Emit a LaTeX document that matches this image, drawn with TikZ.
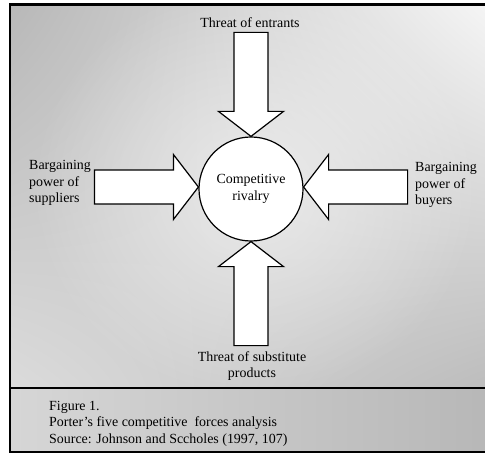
\documentclass[tikz,border=0pt]{standalone}
\usepackage{fontspec}
\setmainfont{Liberation Serif}
\usetikzlibrary{calc,fadings,shadings}
\definecolor{bgTL}{gray}{0.72}
\definecolor{bgTR}{gray}{0.96}
\definecolor{bgBL}{gray}{0.86}
\definecolor{bgBR}{gray}{0.74}
\definecolor{capL}{gray}{0.84}
\definecolor{capR}{gray}{0.72}
\tikzfading[name=softspot, inner color=transparent!0, outer color=transparent!100]
\tikzset{
  lbl/.style={font=\fontsize{14}{16.5}\selectfont, inner sep=0pt, text=black},
  force/.style={draw=black, line width=1.2bp, fill=white, line join=miter},
  frameline/.style={line width=2.6bp, draw=black},
  pics/forcearrow/.style={code={
    \draw[force] (0,0) -- (-25,-32.5) -- (-25,-17) -- (-104,-17)
      -- (-104,17) -- (-25,17) -- (-25,32.5) -- cycle;}}
}
\begin{document}
\begin{tikzpicture}[x=1bp,y=-1bp]
\useasboundingbox (0,0) rectangle (485,455);
\fill[white] (0,0) rectangle (485,455);
% background of the figure
\shade[upper left=bgTL, upper right=bgTR, lower left=bgBL, lower right=bgBR]
  (10,4.5) rectangle (485,388);
\fill[white, opacity=0.55, path fading=softspot]
  (30,-20) rectangle (480,400);
\shade[left color=capL, right color=capR] (10,388) rectangle (485,452);
% frame
\draw[frameline] (485,4.5) -- (10,4.5) -- (10,452) -- (485,452);
\draw[line width=1.6bp] (10,388) -- (485,388);
% centre
\node[circle, draw=black, line width=1.2bp, fill=white, minimum size=104bp,
  inner sep=0pt, align=center, lbl] (rivalry) at (251,189)
  {Competitive\\rivalry};
% the four force arrows
\pic[rotate=-90] at (rivalry.north) {forcearrow};
\pic[rotate=90] at (rivalry.south) {forcearrow};
\pic at ($(rivalry.west)+(0,-2)$) {forcearrow};
\pic[rotate=180] at ($(rivalry.east)+(0,-2)$) {forcearrow};
% labels
\node[lbl, anchor=base] (entrants) at (250,28) {Threat of entrants};
\node[lbl, anchor=base west] (suppliers) at (29,170)
  {\begin{tabular}[t]{@{}l@{}}Bargaining\\power of\\suppliers\end{tabular}};
\node[lbl, anchor=base west] (buyers) at (415,172)
  {\begin{tabular}[t]{@{}l@{}}Bargaining\\power of\\buyers\end{tabular}};
\node[lbl, anchor=base] (substitutes) at (252,361)
  {\begin{tabular}[t]{@{}c@{}}Threat of substitute\\products\end{tabular}};
\node[lbl, font=\fontsize{14}{17}\selectfont, anchor=base west] (caption) at (49,410)
  {\begin{tabular}[t]{@{}l@{}}Figure 1.\\Porter’s five competitive\ \ forces analysis\\Source: Johnson and Sccholes (1997, 107)\end{tabular}};
\end{tikzpicture}
\end{document}
